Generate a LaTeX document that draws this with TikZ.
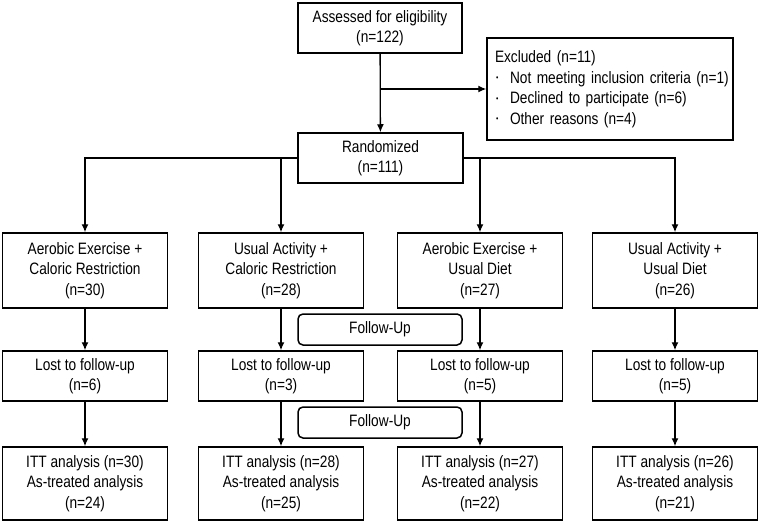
\documentclass[tikz,border=0pt]{standalone}
\usepackage{fontspec}
\setmainfont{Liberation Sans}[FakeStretch=0.83]
\usetikzlibrary{arrows.meta}

\tikzset{
	box/.style={draw, line width=1.5pt, align=center, inner sep=0pt,
		minimum width=165pt, font=\fontsize{16.5}{20.5}\selectfont},
	fubox/.style={box, rounded corners=5pt, minimum width=164pt, minimum height=31pt},
	link/.style={line width=1.3pt, -{Latex[length=8pt,width=7pt]}}
}
\newcommand{\smallbullet}{\makebox[15pt][l]{\hspace{1pt}\raisebox{0.25ex}{\footnotesize\textbullet}}}

\begin{document}
	\begin{tikzpicture}[x=1pt, y=-1pt]
		\useasboundingbox (0,0) rectangle (762,524);

		\node[box, minimum width=164pt, minimum height=50pt] (assess) at (380, 28) {Assessed for eligibility\\(n=122)};
		\node[box, align=left, text width=230pt, inner xsep=8pt, minimum height=102pt] (excl) at (610, 89)
			{\mbox{Excluded (n=11)}\\
			\mbox{\smallbullet Not meeting inclusion criteria (n=1)}\\
			\mbox{\smallbullet Declined to participate (n=6)}\\
			\mbox{\smallbullet Other reasons (n=4)}};
		\node[box, minimum height=50pt] (rand) at (380.5, 158) {Randomized\\(n=111)};

		\begin{scope}[every node/.style={box, minimum height=75pt}]
		\node (grp-1) at (85,  270.5) {Aerobic Exercise +\\Caloric Restriction\\(n=30)};
		\node (grp-2) at (281, 270.5) {Usual Activity +\\Caloric Restriction\\(n=28)};
		\node (grp-3) at (480, 270.5) {Aerobic Exercise +\\Usual Diet\\(n=27)};
		\node (grp-4) at (675, 270.5) {Usual Activity +\\Usual Diet\\(n=26)};
		\end{scope}

		\begin{scope}[every node/.style={box, minimum height=50pt}]
		\node (lost-1) at (85,  376) {Lost to follow-up\\(n=6)};
		\node (lost-2) at (281, 376) {Lost to follow-up\\(n=3)};
		\node (lost-3) at (480, 376) {Lost to follow-up\\(n=5)};
		\node (lost-4) at (675, 376) {Lost to follow-up\\(n=5)};
		\end{scope}

		\begin{scope}[every node/.style={box, minimum height=73pt}]
		\node (itt-1) at (85,  483.5) {ITT analysis (n=30)\\As-treated analysis\\(n=24)};
		\node (itt-2) at (281, 483.5) {ITT analysis (n=28)\\As-treated analysis\\(n=25)};
		\node (itt-3) at (480, 483.5) {ITT analysis (n=27)\\As-treated analysis\\(n=22)};
		\node (itt-4) at (675, 483.5) {ITT analysis (n=26)\\As-treated analysis\\(n=21)};
		\end{scope}

		\node[fubox] (fu-1) at (380, 329.5) {Follow-Up};
		\node[fubox] (fu-2) at (380, 422.5) {Follow-Up};

		\coordinate (split) at (380, 89);

		\draw[link] (assess) -- (rand);
		\draw[link] (split) -- (split -| excl.west);

		\draw[link] (rand.west) -| (grp-1);
		\draw[link] (rand.west -| grp-2) -- (grp-2);
		\draw[link] (rand.east -| grp-3) -- (grp-3);
		\draw[link] (rand.east) -| (grp-4);

		\foreach \i in {1,...,4} {
			\draw[link] (grp-\i) -- (lost-\i);
			\draw[link] (lost-\i) -- (itt-\i);
		}
	\end{tikzpicture}
\end{document}
